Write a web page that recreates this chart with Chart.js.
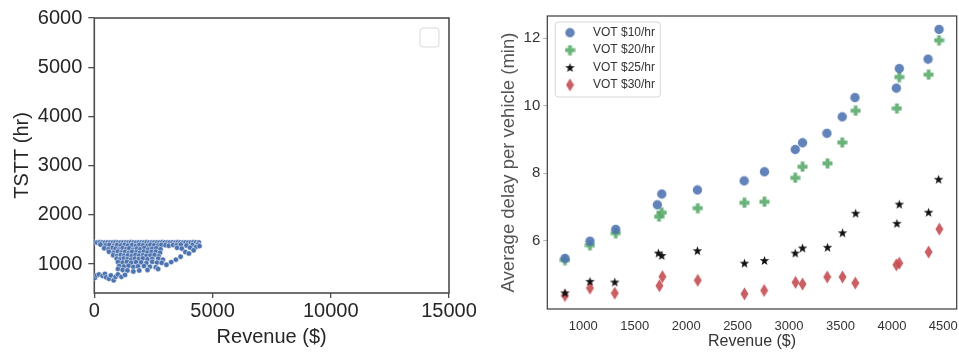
<!DOCTYPE html>
<html lang="en">
  <head>
    <meta charset="UTF-8" />
    <title>TSTT and delay vs revenue</title>
    <script src="https://cdn.jsdelivr.net/npm/chart.js"></script>
    <style>
      html,
      body {
        margin: 0;
        padding: 0;
        background: #fff;
        overflow: hidden;
        width: 959px;
        height: 352px;
      }
      .panel {
        position: absolute;
        top: 0;
      }
      #leftPanel {
        left: 0;
      }
      #rightPanel {
        left: 480px;
      }
    </style>
  </head>
  <body>
    <div class="panel" id="leftPanel">
      <canvas id="tsttChart" width="480" height="352"></canvas>
    </div>
    <div class="panel" id="rightPanel">
      <canvas id="delayChart" width="520" height="352"></canvas>
    </div>

    <script>
      // ---- left panel: one dot per toll scenario (revenue $, TSTT hr) ----
      const runRevenue = [
        20, 120, 230, 340, 450, 560, 670, 780, 890, 1000, 1110, 1220, 1330, 1440, 1550, 1660, 1770, 1880, 1990, 2100, 2210,
        2320, 2430, 2540, 2650, 2760, 2870, 2980, 3090, 3200, 3310, 3420, 3530, 3640, 3750, 3860, 3970, 4080, 4190, 4300, 4420,
        260, 480, 640, 820, 960, 1130, 1290, 1420, 1600, 1760, 1910, 2060, 2240, 2380, 2530, 2700, 2840, 3010, 3150, 3330,
        3480, 3660, 3900, 4150, 4380,
        420, 600, 780, 900, 1050, 1200, 1350, 1480, 1640, 1800, 1950, 2120, 2280, 2450, 2620, 2800, 3500, 3700, 4050, 4300, 4450,
        620, 820, 1000, 1150, 1300, 1450, 1600, 1780, 1930, 2100, 2250, 2420, 2600, 2780, 3850, 4200,
        800, 960, 1120, 1260, 1420, 1580, 1740, 1900, 2060, 2200, 2380, 2550, 2720, 3650, 4000,
        950, 1100, 1250, 1400, 1560, 1720, 1880, 2050, 2250, 2450, 2700, 2900, 3450,
        1000, 1200, 1380, 1560, 1760, 1980, 2200, 2450, 2650, 2850, 3250,
        1050, 1250, 1450, 1650, 1850, 2100, 2350, 2600, 3050,
        1000, 1200, 1400, 1650, 1900, 2250, 2700,
        30, 100, 200, 350, 450, 500, 620, 700, 820, 900, 1000, 1150, 1300,
      ];
      const runTstt = [
        1440, 1438, 1442, 1440, 1437, 1441, 1440, 1439, 1442, 1440, 1438, 1441, 1440, 1439, 1442, 1440, 1438, 1441, 1440, 1439, 1442,
        1440, 1438, 1441, 1440, 1439, 1442, 1440, 1438, 1441, 1440, 1439, 1442, 1440, 1438, 1441, 1440, 1439, 1442, 1440, 1438,
        1395, 1380, 1390, 1372, 1388, 1378, 1392, 1375, 1385, 1370, 1390, 1380, 1374, 1392, 1382, 1376, 1390, 1384, 1372, 1388,
        1380, 1392, 1378, 1386, 1395,
        1320, 1300, 1330, 1310, 1295, 1325, 1305, 1320, 1290, 1315, 1300, 1325, 1295, 1310, 1320, 1300, 1330, 1315, 1335, 1345, 1365,
        1250, 1230, 1255, 1235, 1245, 1225, 1250, 1240, 1230, 1255, 1235, 1245, 1250, 1230, 1245, 1280,
        1180, 1165, 1185, 1170, 1175, 1160, 1185, 1170, 1180, 1165, 1175, 1185, 1160, 1150, 1215,
        1110, 1095, 1115, 1100, 1090, 1110, 1100, 1115, 1095, 1105, 1110, 1090, 1090,
        1040, 1030, 1045, 1025, 1040, 1035, 1020, 1045, 1030, 1025, 1040,
        960, 950, 965, 940, 955, 960, 945, 935, 985,
        900, 880, 870, 850, 870, 880, 900,
        720, 770, 790, 760, 800, 730, 700, 770, 670, 740, 790, 740, 780,
      ];
      const tsttTicks = [1000, 2000, 3000, 4000, 5000, 6000];
      const tsttTickLabels = ["1000", "2000", "3000", "4000", "5000", "6000"];
      const leftRevenueTicks = [0, 5000, 10000, 15000];
      const leftRevenueTickLabels = ["0", "5000", "10000", "15000"];

      // ---- right panel: average delay per vehicle for each value of time ----
      const votLabels = ["VOT $10/hr", "VOT $20/hr", "VOT $25/hr", "VOT $30/hr"];
      const revenueVot10 = [822, 1065, 1315, 1720, 1763, 2109, 2564, 2761, 3060, 3131, 3368, 3517, 3641, 4043, 4072, 4351, 4458];
      const delayVot10 = [5.47, 5.98, 6.33, 7.06, 7.38, 7.5, 7.77, 8.04, 8.7, 8.9, 9.18, 9.67, 10.24, 10.52, 11.1, 11.38, 12.26];
      const revenueVot20 = [822, 1065, 1315, 1736, 1763, 2113, 2567, 2761, 3060, 3131, 3374, 3517, 3648, 4049, 4072, 4357, 4458];
      const delayVot20 = [5.42, 5.86, 6.22, 6.71, 6.83, 6.96, 7.12, 7.15, 7.86, 8.19, 8.29, 8.91, 9.85, 9.92, 10.85, 10.92, 11.94];
      const revenueVot25 = [822, 1065, 1306, 1730, 1763, 2109, 2567, 2761, 3060, 3131, 3374, 3520, 3648, 4049, 4072, 4357, 4454];
      const delayVot25 = [4.45, 4.79, 4.77, 5.63, 5.56, 5.7, 5.33, 5.41, 5.63, 5.78, 5.8, 6.23, 6.81, 6.51, 7.08, 6.84, 7.82];
      const revenueVot30 = [822, 1065, 1306, 1740, 1769, 2113, 2567, 2758, 3063, 3131, 3371, 3520, 3644, 4043, 4072, 4357, 4461];
      const delayVot30 = [4.37, 4.59, 4.44, 4.66, 4.93, 4.82, 4.42, 4.52, 4.76, 4.71, 4.92, 4.92, 4.74, 5.28, 5.33, 5.66, 6.34];
      const delayTicks = [6, 8, 10, 12];
      const delayTickLabels = ["6", "8", "10", "12"];
      const rightRevenueTicks = [1000, 1500, 2000, 2500, 3000, 3500, 4000, 4500];
      const rightRevenueTickLabels = ["1000", "1500", "2000", "2500", "3000", "3500", "4000", "4500"];

      Chart.defaults.font.family = '"Liberation Sans", Arial, sans-serif';

      const toPoints = (xs, ys) => xs.map((x, i) => ({ x: x, y: ys[i] }));
      const fixTicks = (values) => (scale) => {
        scale.ticks = values.map((v) => ({ value: v }));
      };

      // full box around the plotting area
      const frame = {
        id: "frame",
        beforeDatasetsDraw(chart, args, opts) {
          const { ctx, chartArea: a } = chart;
          ctx.save();
          ctx.strokeStyle = opts.color;
          ctx.lineWidth = opts.width;
          ctx.strokeRect(a.left, a.top, a.right - a.left, a.bottom - a.top);
          ctx.restore();
        },
      };

      // the left plot has an empty legend frame in its corner
      const emptyLegend = {
        id: "emptyLegend",
        afterDraw(chart) {
          const { ctx, chartArea: a } = chart;
          ctx.save();
          ctx.strokeStyle = "#d9d9d9";
          ctx.lineWidth = 1;
          ctx.beginPath();
          ctx.roundRect(a.right - 29, a.top + 10, 19, 19, 3);
          ctx.stroke();
          ctx.restore();
        },
      };

      // marker images (matplotlib-like filled plus, star and thin diamond)
      function makeMarker(w, h, color, path) {
        const c = document.createElement("canvas");
        c.width = w;
        c.height = h;
        const g = c.getContext("2d");
        g.fillStyle = color;
        g.beginPath();
        path(g);
        g.closePath();
        g.fill();
        return c;
      }
      const circleMark = makeMarker(11, 11, "rgba(76,114,176,0.88)", (g) => g.arc(5.5, 5.5, 4.7, 0, Math.PI * 2));
      const plusMark = makeMarker(11, 11, "rgba(85,168,104,0.88)", (g) => {
        const pts = [
          [3.6, 0.5], [7.4, 0.5], [7.4, 3.6], [10.5, 3.6], [10.5, 7.4], [7.4, 7.4],
          [7.4, 10.5], [3.6, 10.5], [3.6, 7.4], [0.5, 7.4], [0.5, 3.6], [3.6, 3.6],
        ];
        pts.forEach(([x, y], i) => (i ? g.lineTo(x, y) : g.moveTo(x, y)));
      });
      const starMark = makeMarker(11, 11, "#111", (g) => {
        for (let i = 0; i < 10; i++) {
          const r = i % 2 ? 2.0 : 5.0;
          const ang = -Math.PI / 2 + (i * Math.PI) / 5;
          const x = 5.5 + r * Math.cos(ang);
          const y = 5.9 + r * Math.sin(ang);
          i ? g.lineTo(x, y) : g.moveTo(x, y);
        }
      });
      const diamondMark = makeMarker(9, 14, "rgba(196,78,82,0.9)", (g) => {
        g.moveTo(4.5, 0.5);
        g.lineTo(8.5, 7);
        g.lineTo(4.5, 13.5);
        g.lineTo(0.5, 7);
      });

      // legend drawn inside the plot, top left, with a light frame
      const votLegend = {
        id: "votLegend",
        afterDraw(chart) {
          const { ctx, chartArea: a } = chart;
          ctx.save();
          ctx.fillStyle = "rgba(255,255,255,0.85)";
          ctx.strokeStyle = "#d6d6d6";
          ctx.lineWidth = 1;
          ctx.beginPath();
          ctx.roundRect(a.left + 8, a.top + 6, 105, 75, 3);
          ctx.fill();
          ctx.stroke();
          ctx.font = '12px "Liberation Sans", Arial, sans-serif';
          ctx.fillStyle = "#333";
          ctx.textBaseline = "middle";
          chart.data.datasets.forEach((ds, i) => {
            const y = a.top + 16.7 + i * 17.4;
            const img = ds.pointStyle;
            ctx.drawImage(img, a.left + 22.7 - img.width / 2, y - img.height / 2);
            ctx.fillText(ds.label, a.left + 45.7, y);
          });
          ctx.restore();
        },
      };

      // Left chart: TSTT vs revenue
      new Chart(document.getElementById("tsttChart"), {
        type: "scatter",
        data: {
          datasets: [
            {
              data: toPoints(runRevenue, runTstt),
              pointRadius: 2.7,
              backgroundColor: "#4c72b0",
              borderColor: "#ffffff",
              borderWidth: 0.5,
            },
          ],
        },
        options: {
          responsive: false,
          animation: false,
          events: [],
          layout: { padding: { left: 0, top: 15, right: 31, bottom: 0 } },
          plugins: {
            legend: { display: false },
            tooltip: { enabled: false },
            frame: { color: "#4d4d4d", width: 1.6 },
          },
          scales: {
            x: {
              type: "linear",
              min: 0,
              max: 15000,
              afterBuildTicks: fixTicks(leftRevenueTicks),
              afterFit: (s) => {
                s.height = 59;
              },
              border: { display: false },
              grid: { drawOnChartArea: false, drawTicks: true, tickLength: 5, color: "#4d4d4d", lineWidth: 1.3 },
              ticks: {
                font: { size: 20 },
                color: "#262626",
                padding: 1,
                maxRotation: 0,
                callback: (v, i) => leftRevenueTickLabels[i],
              },
              title: {
                display: true,
                text: "Revenue ($)",
                font: { size: 20 },
                color: "#262626",
                padding: { top: 0, bottom: 3 },
              },
            },
            y: {
              min: 412,
              max: 6000,
              afterBuildTicks: fixTicks(tsttTicks),
              afterFit: (s) => {
                s.width = 94.3;
              },
              border: { display: false },
              grid: { drawOnChartArea: false, drawTicks: true, tickLength: 6, color: "#4d4d4d", lineWidth: 1.3 },
              ticks: {
                font: { size: 20 },
                color: "#262626",
                padding: 6,
                callback: (v, i) => tsttTickLabels[i],
              },
              title: {
                display: true,
                text: "TSTT (hr)",
                font: { size: 20 },
                color: "#262626",
                padding: { top: 10, bottom: 0 },
              },
            },
          },
        },
        plugins: [frame, emptyLegend],
      });

      // Right chart: average delay vs revenue for each VOT
      new Chart(document.getElementById("delayChart"), {
        type: "scatter",
        data: {
          datasets: [
            { label: votLabels[0], data: toPoints(revenueVot10, delayVot10), pointStyle: circleMark },
            { label: votLabels[1], data: toPoints(revenueVot20, delayVot20), pointStyle: plusMark },
            { label: votLabels[2], data: toPoints(revenueVot25, delayVot25), pointStyle: starMark },
            { label: votLabels[3], data: toPoints(revenueVot30, delayVot30), pointStyle: diamondMark },
          ],
        },
        options: {
          responsive: false,
          animation: false,
          events: [],
          layout: { padding: { left: 0, top: 16, right: 43.3, bottom: 0 } },
          plugins: {
            legend: { display: false },
            tooltip: { enabled: false },
            frame: { color: "#3a3a3a", width: 1.2 },
          },
          scales: {
            x: {
              type: "linear",
              min: 650,
              max: 4630,
              afterBuildTicks: fixTicks(rightRevenueTicks),
              afterFit: (s) => {
                s.height = 43;
              },
              border: { display: false },
              grid: { display: false },
              ticks: {
                font: { size: 13 },
                color: "#333",
                padding: 2,
                maxRotation: 0,
                callback: (v, i) => rightRevenueTickLabels[i],
              },
              title: {
                display: true,
                text: "Revenue ($)",
                font: { size: 16 },
                color: "#333",
                padding: { top: 0, bottom: 1 },
              },
            },
            y: {
              min: 3.97,
              max: 12.66,
              afterBuildTicks: fixTicks(delayTicks),
              afterFit: (s) => {
                s.width = 67.3;
              },
              border: { display: false },
              grid: { drawOnChartArea: false, drawTicks: true, tickLength: 4, color: "#b5b5b5" },
              ticks: {
                font: { size: 15 },
                color: "#333",
                padding: 3,
                callback: (v, i) => delayTickLabels[i],
              },
              title: {
                display: true,
                text: "Average delay per vehicle (min)",
                font: { size: 18.5 },
                color: "#555",
                padding: { top: 18, bottom: 0 },
              },
            },
          },
        },
        plugins: [frame, votLegend],
      });
    </script>
  </body>
</html>
